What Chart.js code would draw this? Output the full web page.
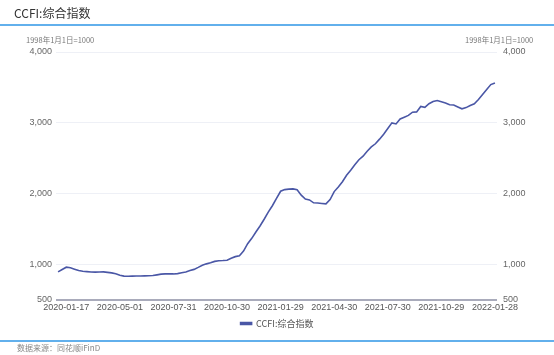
<!DOCTYPE html>
<html>
<head>
<meta charset="utf-8">
<script src="https://cdn.jsdelivr.net/npm/chart.js@4"></script>
<style>
  body { margin: 0; background: #fff; }
  #wrap { position: relative; width: 554px; height: 355px; overflow: hidden; font-family: "Liberation Sans", "Noto Sans CJK SC", sans-serif; }
  #chart { position: absolute; left: 0; top: 0; }
  .title { position: absolute; left: 14px; top: 4px; font-size: 12px; color: #333; font-family: "Noto Sans CJK SC", sans-serif; }
  .bar { position: absolute; left: 0; width: 554px; height: 2px; background: #62b0ec; }
  .unit { position: absolute; top: 34px; font-size: 7.5px; color: #777; font-family: "Noto Sans CJK SC", sans-serif; }
  .src { position: absolute; left: 17px; top: 342px; font-size: 8px; color: #888; font-family: "Noto Sans CJK SC", sans-serif; }
</style>
</head>
<body>
<div id="wrap">
  <canvas id="chart" width="554" height="355"></canvas>
  <div class="title">CCFI:综合指数</div>
  <div class="bar" style="top:24px"></div>
  <div class="unit" style="left:26px">1998年1月1日=1000</div>
  <div class="unit" style="left:465px">1998年1月1日=1000</div>
  <div class="bar" style="top:340px"></div>
  <div class="src">数据来源：同花顺iFinD</div>
</div>
<script>
const ctx = document.getElementById('chart');

// weekly dates (no data around Spring Festival 2020)
const dates = [
  '2020-01-03','2020-01-10','2020-01-17','2020-02-07','2020-02-14','2020-02-21','2020-02-28','2020-03-06','2020-03-13','2020-03-20',
  '2020-03-27','2020-04-03','2020-04-10','2020-04-17','2020-04-24','2020-05-01','2020-05-08','2020-05-15','2020-05-22','2020-05-29',
  '2020-06-05','2020-06-12','2020-06-19','2020-06-26','2020-07-03','2020-07-10','2020-07-17','2020-07-24','2020-07-31','2020-08-07',
  '2020-08-14','2020-08-21','2020-08-28','2020-09-04','2020-09-11','2020-09-18','2020-09-25','2020-10-02','2020-10-09','2020-10-16',
  '2020-10-23','2020-10-30','2020-11-06','2020-11-13','2020-11-20','2020-11-27','2020-12-04','2020-12-11','2020-12-18','2020-12-25',
  '2021-01-01','2021-01-08','2021-01-15','2021-01-22','2021-01-29','2021-02-05','2021-02-12','2021-02-19','2021-02-26','2021-03-05',
  '2021-03-12','2021-03-19','2021-03-26','2021-04-02','2021-04-09','2021-04-16','2021-04-23','2021-04-30','2021-05-07','2021-05-14',
  '2021-05-21','2021-05-28','2021-06-04','2021-06-11','2021-06-18','2021-06-25','2021-07-02','2021-07-09','2021-07-16','2021-07-23',
  '2021-07-30','2021-08-06','2021-08-13','2021-08-20','2021-08-27','2021-09-03','2021-09-10','2021-09-17','2021-09-24','2021-10-01',
  '2021-10-08','2021-10-15','2021-10-22','2021-10-29','2021-11-05','2021-11-12','2021-11-19','2021-11-26','2021-12-03','2021-12-10',
  '2021-12-17','2021-12-24','2021-12-31','2022-01-07','2022-01-14','2022-01-21','2022-01-28'
];

const ccfi = [
  897, 930, 963, 955, 935, 915, 905, 900, 896, 893,
  895, 897, 890, 883, 870, 848, 837, 836, 837, 838,
  839, 841, 843, 846, 855, 865, 868, 869, 868, 872,
  885, 895, 915, 932, 960, 990, 1010, 1025, 1045, 1055,
  1057, 1062, 1090, 1112, 1125, 1190, 1295, 1370, 1460, 1545,
  1640, 1740, 1830, 1935, 2035, 2058, 2065, 2068, 2055, 1980,
  1925, 1913, 1872, 1870, 1863, 1856, 1918, 2030, 2095, 2170,
  2260, 2330, 2410, 2480, 2530, 2600, 2660, 2705, 2770, 2840,
  2920, 3000, 2985, 3055, 3080, 3105, 3150, 3155, 3232, 3220,
  3270, 3300, 3315, 3298, 3281, 3255, 3252, 3225, 3198, 3215,
  3245, 3270, 3330, 3400, 3470, 3540, 3563
];

const yTicks = [500, 1000, 2000, 3000, 4000];

const tickFont = { family: '"Liberation Sans", Arial, sans-serif', size: 9 };

function setTicks(scale) {
  scale.ticks = yTicks.map(v => ({ value: v }));
}

new Chart(ctx, {
  type: 'line',
  data: {
    labels: dates,
    datasets: [{
      label: 'CCFI:综合指数',
      data: ccfi,
      borderColor: '#4a57a6',
      backgroundColor: '#4a57a6',
      borderWidth: 1.6,
      pointRadius: 0,
      tension: 0,
      yAxisID: 'y'
    }]
  },
  options: {
    responsive: false,
    animation: false,
    layout: {
      padding: { top: 52, bottom: 17, left: 0, right: 0 }
    },
    plugins: {
      legend: {
        position: 'bottom',
        labels: {
          boxWidth: 11,
          boxHeight: 2,
          padding: 6,
          color: '#555',
          font: { family: '"Noto Sans CJK SC", sans-serif', size: 9 }
        }
      },
      tooltip: { enabled: false }
    },
    scales: {
      x: {
        offset: true,
        grid: { display: false, drawTicks: false },
        border: { display: false },
        afterFit: function(scale) {
          scale.height = 13;
        },
        ticks: {
          autoSkip: false,
          maxRotation: 0,
          padding: 2,
          color: '#555',
          font: tickFont,
          callback: function(value, index) {
            if ((index - 2) % 13 == 0) {
              return this.getLabelForValue(value);
            }
            return null;
          }
        }
      },
      y: {
        position: 'left',
        min: 500,
        max: 4000,
        afterBuildTicks: setTicks,
        afterFit: function(scale) {
          scale.width = 56;
        },
        border: { display: false },
        grid: {
          drawTicks: false,
          color: (c) => c.tick && c.tick.value === 500 ? '#a9abbb' : '#eef0f6',
          lineWidth: (c) => c.tick && c.tick.value === 500 ? 2 : 1
        },
        ticks: {
          padding: 4,
          color: '#666',
          font: tickFont,
          callback: (v) => v.toLocaleString('en-US')
        }
      },
      y2: {
        position: 'right',
        min: 500,
        max: 4000,
        afterBuildTicks: setTicks,
        afterFit: function(scale) {
          scale.width = 57;
        },
        border: { display: false },
        grid: { display: false, drawTicks: false },
        ticks: {
          padding: 6,
          color: '#666',
          font: tickFont,
          callback: (v) => v.toLocaleString('en-US')
        }
      }
    }
  }
});
</script>
</body>
</html>
